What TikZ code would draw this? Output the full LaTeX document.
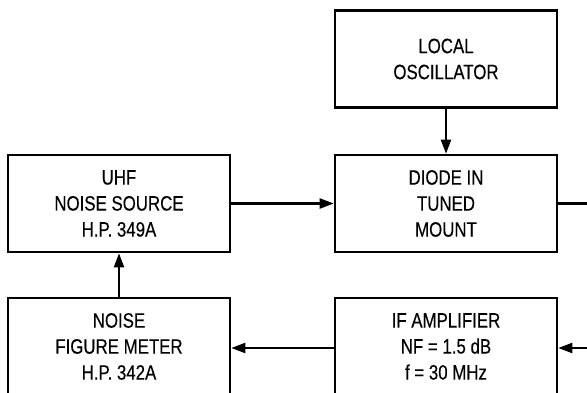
\documentclass[tikz,border=0pt]{standalone}
\usepackage{fontspec}
\setmainfont{Liberation Sans}[FakeStretch=0.81,FakeBold=0.3]
\usetikzlibrary{arrows.meta}
\begin{document}
\begin{tikzpicture}[x=1pt,y=-1pt,
  blk/.style={draw=black,line width=2.6pt,minimum width=222pt,minimum height=97pt,inner sep=0pt,align=center,
    font=\fontsize{20.8}{26}\selectfont},
  conn/.style={line width=2.2pt,-{Triangle[length=14pt,width=10pt]}},
  plain/.style={line width=2.2pt}]
\useasboundingbox (0,0) rectangle (587,393);
\clip (0,0) rectangle (587,393);
\node[blk] (lo) at (446,59) {LOCAL\\OSCILLATOR};
\node[blk] (diode) at (446,203.5) {DIODE IN\\TUNED\\MOUNT};
\node[blk] (uhf) at (119,203.5) {UHF\\NOISE SOURCE\\H.P. 349A};
\node[blk] (nfm) at (119,346.5) {NOISE\\FIGURE METER\\H.P. 342A};
\node[blk] (ifa) at (446,346.5) {IF AMPLIFIER\\NF = 1.5 dB\\f = 30 MHz};
\coordinate (rout) at (600,203.5);
\coordinate (rin) at (600,348);
\draw[conn] (lo) -- (diode);
\draw[conn] (uhf) -- (diode);
\draw[conn] (nfm) -- (uhf);
\draw[conn] (ifa.west |- rin) -- (nfm.east |- rin);
\draw[plain] (diode.east) -- (rout);
\draw[conn] (rin) -- (ifa.east |- rin);
\end{tikzpicture}
\end{document}
